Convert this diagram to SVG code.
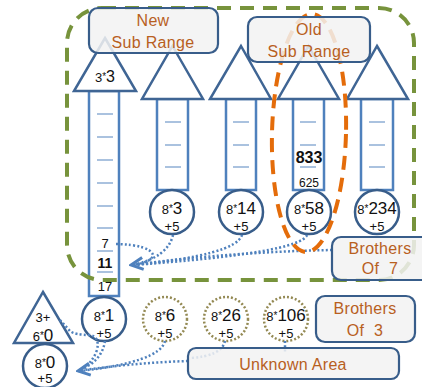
<svg xmlns="http://www.w3.org/2000/svg" width="422" height="387" viewBox="0 0 422 387">
<style>
text{font-family:"Liberation Sans",Arial,sans-serif;fill:#111}
.tri{fill:#fff;stroke:#3F6594;stroke-width:2.5;stroke-linejoin:miter}
.shaft{fill:#fff;stroke:#4F81BD;stroke-width:2.5}
.tick{stroke:#95B3D7;stroke-width:1.6}
.circ{fill:#fff;stroke:#385D8A;stroke-width:2.5}
.dcirc{fill:#fff;stroke:#948A54;stroke-width:2.5;stroke-dasharray:2 2}
.box{fill:#F2F2F2;fill-opacity:0.85;stroke:#385D8A;stroke-width:2.2}
.lbl{font-size:16px;fill:#B8601E;text-anchor:middle;letter-spacing:0.3px}
.c{text-anchor:middle}
.s{font-size:13px}
.st{font-size:10px}
.b{font-size:17px}
.p{font-size:13px}
.con{fill:none;stroke:#4F81BD;stroke-width:2.5;stroke-dasharray:2 2.2}
</style>
<defs>
<marker id="ah" viewBox="-15 -9 17 18" refX="0" refY="0" markerWidth="17" markerHeight="18" markerUnits="userSpaceOnUse" orient="auto">
<path d="M-12,-6 L0,0 L-12,6" fill="none" stroke="#4F81BD" stroke-width="3"/>
</marker>
</defs>

<g id="col1">
<rect class="shaft" x="89" y="91" width="30" height="205"/>
<polygon class="tri" points="105,38 136,91 74,91"/>
<text class="c" x="105" y="82"><tspan class="s">3</tspan><tspan class="st" dy="-2">*</tspan><tspan class="b" dy="2" style="font-size:16px">3</tspan></text>
<g class="tick"><line x1="97" y1="114" x2="113" y2="114"/><line x1="97" y1="137" x2="113" y2="137"/><line x1="97" y1="160" x2="113" y2="160"/><line x1="97" y1="183" x2="113" y2="183"/><line x1="97" y1="206" x2="113" y2="206"/><line x1="97" y1="228" x2="113" y2="228"/><line x1="97" y1="251" x2="113" y2="251"/><line x1="97" y1="272" x2="113" y2="272"/></g>
<text class="c p" x="105" y="248">7</text>
<text class="c" x="105" y="268" style="font-size:14px;font-weight:bold">11</text>
<text class="c p" x="105" y="291">17</text>
</g>
<g id="n8x1">
<circle class="circ" cx="104" cy="319" r="22"/>
<text class="c" x="104" y="321"><tspan class="s">8</tspan><tspan class="st" dy="-2">*</tspan><tspan class="b" dy="2">1</tspan></text>
<text class="c p" x="104" y="338">+5</text>
</g>

<g id="col2">
<rect class="shaft" x="157" y="99" width="31" height="91"/>
<polygon class="tri" points="172.5,46 203,99 142,99"/>
<g class="tick"><line x1="165" y1="122" x2="181" y2="122"/><line x1="165" y1="145" x2="181" y2="145"/><line x1="165" y1="167" x2="181" y2="167"/></g>
<circle class="circ" cx="172" cy="212" r="22"/>
<text class="c" x="172" y="214"><tspan class="s">8</tspan><tspan class="st" dy="-2">*</tspan><tspan class="b" dy="2">3</tspan></text>
<text class="c p" x="172" y="231">+5</text>
</g>

<g id="col3">
<rect class="shaft" x="226" y="99" width="30" height="91"/>
<polygon class="tri" points="241,46 271,99 210,99"/>
<g class="tick"><line x1="233" y1="122" x2="249" y2="122"/><line x1="233" y1="145" x2="249" y2="145"/><line x1="233" y1="167" x2="249" y2="167"/></g>
<circle class="circ" cx="241" cy="212" r="22"/>
<text class="c" x="241" y="214"><tspan class="s">8</tspan><tspan class="st" dy="-2">*</tspan><tspan class="b" dy="2">14</tspan></text>
<text class="c p" x="241" y="231">+5</text>
</g>

<g id="col4">
<rect class="shaft" x="293" y="99" width="31" height="91"/>
<polygon class="tri" points="308.5,46 339,99 278,99"/>
<g class="tick"><line x1="300" y1="122" x2="316" y2="122"/><line x1="300" y1="145" x2="316" y2="145"/><line x1="300" y1="167" x2="316" y2="167"/></g>
<text class="c" x="309" y="163" style="font-size:16px;font-weight:bold">833</text>
<text class="c" x="309" y="187" style="font-size:12px">625</text>
<circle class="circ" cx="309" cy="212" r="22"/>
<text class="c" x="309" y="214"><tspan class="s">8</tspan><tspan class="st" dy="-2">*</tspan><tspan class="b" dy="2">58</tspan></text>
<text class="c p" x="309" y="231">+5</text>
</g>

<g id="col5">
<rect class="shaft" x="361" y="99" width="32" height="91"/>
<polygon class="tri" points="377,46 408,99 347,99"/>
<g class="tick"><line x1="369" y1="122" x2="385" y2="122"/><line x1="369" y1="145" x2="385" y2="145"/><line x1="369" y1="167" x2="385" y2="167"/></g>
<circle class="circ" cx="377" cy="212" r="22"/>
<text class="c" x="377" y="214"><tspan class="s">8</tspan><tspan class="st" dy="-2">*</tspan><tspan class="b" dy="2">234</tspan></text>
<text class="c p" x="377" y="231">+5</text>
</g>

<g id="tri36">
<polygon class="tri" points="43,292 73,343 14,343"/>
<text class="c p" x="43" y="322">3+</text>
<text class="c" x="43" y="341"><tspan class="p">6</tspan><tspan class="st" dy="-2">*</tspan><tspan class="b" dy="2">0</tspan></text>
</g>
<g id="n8x0">
<circle class="circ" cx="45" cy="366" r="22"/>
<text class="c" x="45" y="368"><tspan class="s">8</tspan><tspan class="st" dy="-2">*</tspan><tspan class="b" dy="2">0</tspan></text>
<text class="c p" x="45" y="383">+5</text>
</g>
<g id="n8x6">
<circle class="dcirc" cx="165" cy="319" r="22"/>
<text class="c" x="165" y="321"><tspan class="s">8</tspan><tspan class="st" dy="-2">*</tspan><tspan class="b" dy="2">6</tspan></text>
<text class="c p" x="165" y="338">+5</text>
</g>
<g id="n8x26">
<circle class="dcirc" cx="226" cy="319" r="22"/>
<text class="c" x="226" y="321"><tspan class="s">8</tspan><tspan class="st" dy="-2">*</tspan><tspan class="b" dy="2">26</tspan></text>
<text class="c p" x="226" y="338">+5</text>
</g>
<g id="n8x106">
<circle class="dcirc" cx="286" cy="319" r="22"/>
<text class="c" x="286" y="321"><tspan class="s">8</tspan><tspan class="st" dy="-2">*</tspan><tspan class="b" dy="2">106</tspan></text>
<text class="c p" x="286" y="338">+5</text>
</g>

<g id="connectors">
<path class="con" d="M116,244 Q150,245 153,255 Q152,262 133,265"/>
<path class="con" d="M173,235 Q168,257 133,265"/>
<path class="con" d="M242,235 Q236,255 133,265"/>
<path class="con" d="M307,235 Q300,253 133,265"/>
<path class="con" d="M332,250 Q230,252 131,265" marker-end="url(#ah)"/>
<path class="con" d="M60,320 L70,331 Q75,335 90,335 Q100,337 97,350 Q92,364 80,370"/>
<path class="con" d="M105,341 Q102,361 80,370"/>
<path class="con" d="M165,341 Q160,362 80,371"/>
<path class="con" d="M225,341 Q222,356 190,358"/>
<path class="con" d="M285,341 L285,352"/>
<path class="con" d="M188,361 Q130,363 78,371" marker-end="url(#ah)"/>
</g>

<g id="regions">
<rect x="67" y="8" width="347" height="272" rx="35" ry="35" fill="none" stroke="#77933C" stroke-width="4" stroke-dasharray="14 9"/>
<ellipse cx="309" cy="133" rx="37" ry="119" transform="rotate(1.5 309 133)" fill="none" stroke="#E46C0A" stroke-width="4" stroke-dasharray="14 8"/>
</g>

<g id="newSubRange">
<rect class="box" x="89" y="8" width="129" height="45" rx="9"/>
<text class="lbl" x="153" y="26">New</text>
<text class="lbl" x="153" y="48">Sub Range</text>
</g>
<g id="oldSubRange">
<rect class="box" x="248" y="17" width="122" height="45" rx="9"/>
<text class="lbl" x="309" y="35">Old</text>
<text class="lbl" x="309" y="57">Sub Range</text>
</g>
<g id="brothersOf7">
<rect class="box" x="332" y="237" width="100" height="43" rx="9"/>
<text class="lbl" x="380" y="254">Brothers</text>
<text class="lbl" x="380" y="274" word-spacing="5">Of 7</text>
</g>
<g id="brothersOf3">
<rect class="box" x="316" y="296" width="99" height="46" rx="9"/>
<text class="lbl" x="365" y="314">Brothers</text>
<text class="lbl" x="365" y="336" word-spacing="5">Of 3</text>
</g>
<g id="unknownArea">
<rect class="box" x="188" y="348" width="211" height="31" rx="8"/>
<text class="lbl" x="293" y="370">Unknown Area</text>
</g>
</svg>
